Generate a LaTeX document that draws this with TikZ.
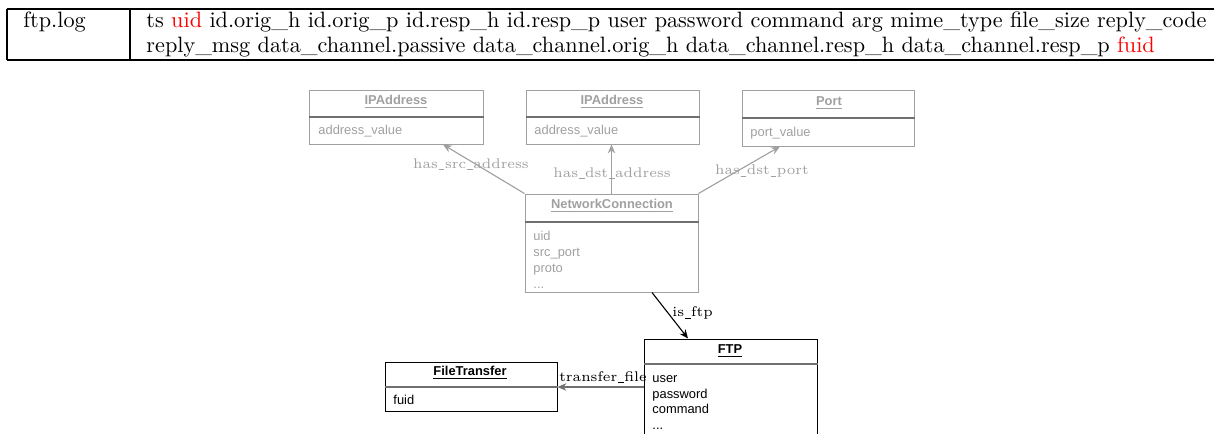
\documentclass[tikz,border=0pt]{standalone}
\usepackage{fontspec}
\newfontfamily\boxfont{Liberation Sans}
\usetikzlibrary{fit,arrows.meta}
\definecolor{lg}{HTML}{A0A0A0}
\definecolor{dg}{HTML}{707070}
\newcommand\nus{\kern0.04em\rule[-0.12em]{0.42em}{0.3pt}\kern0.04em}
\begin{document}
\begin{tikzpicture}[x=0.45pt,y=-0.45pt,
  umlbox/.style={draw, inner sep=0pt, line width=0.45pt},
  gbox/.style={umlbox, draw=lg},
  bbox/.style={umlbox, draw=black},
  ttl/.style={font=\boxfont\fontsize{5.8}{7}\selectfont\bfseries, inner sep=0pt},
  attr/.style={font=\boxfont\fontsize{5.8}{7.1}\selectfont, anchor=north west, inner sep=0pt, align=left},
  lbl/.style={font=\fontsize{6.3}{7.5}\selectfont, inner sep=0pt},
  garrow/.style={draw=lg, line width=0.5pt, -{Stealth[length=4pt,width=3.4pt]}},
  barrow/.style={draw=black, line width=0.5pt, -{Stealth[length=4pt,width=3.4pt]}},
  tabtext/.style={font=\fontsize{10}{12}\selectfont, anchor=base west, inner sep=0pt},
  rule/.style={line width=0.5pt}
]
\useasboundingbox (0,0) rectangle (1214,434);
% table
\draw[rule] (7,9) -- (1220,9);
\draw[rule, line width=0.7pt] (7,60) -- (1220,60);
\draw[rule] (7,9) -- (7,60);
\draw[rule] (130,9) -- (130,60);
\node[tabtext] (tname) at (23,27) {ftp.log};
\node[tabtext] (trow1) at (146,27) {ts \textcolor{red}{uid} id.orig\_h id.orig\_p id.resp\_h id.resp\_p user password command arg mime\_type file\_size reply\_code};
\node[tabtext] (trow2) at (146,52) {reply\_msg data\_channel.passive data\_channel.orig\_h data\_channel.resp\_h data\_channel.resp\_p \textcolor{red}{fuid}};

% IPAddress 1
\node[gbox, fit={(309,90) (483,144)}] (ip1) {};
\draw[dg, line width=0.9pt] (ip1.west |- 0,117) -- (ip1.east |- 0,117);
\node[ttl, text=lg] (ip1t) at (396,102) {\underline{IPAddress}};
\node[attr, text=lg] (ip1a) at (318,125) {address\_value};

% IPAddress 2
\node[gbox, fit={(526,90) (699,144)}] (ip2) {};
\draw[dg, line width=0.9pt] (ip2.west |- 0,117) -- (ip2.east |- 0,117);
\node[ttl, text=lg] (ip2t) at (612,102) {\underline{IPAddress}};
\node[attr, text=lg] (ip2a) at (534,125) {address\_value};

% Port
\node[gbox, fit={(742,90) (914,146)}] (port) {};
\draw[dg, line width=0.9pt] (port.west |- 0,118) -- (port.east |- 0,118);
\node[ttl, text=lg] (portt) at (829,103) {\underline{Port}};
\node[attr, text=lg] (porta) at (750,127) {port\_value};

% NetworkConnection
\node[gbox, fit={(525,194) (698,292)}] (nc) {};
\draw[dg, line width=0.9pt] (nc.west |- 0,222) -- (nc.east |- 0,222);
\node[ttl, text=lg] (nct) at (612,206) {\underline{NetworkConnection}};
\node[attr, text=lg] (nca) at (533,231) {uid\\src\_port\\proto\\...};

% FTP
\node[bbox, fit={(644,339) (817,450)}] (ftp) {};
\draw[dg, line width=0.9pt] (ftp.west |- 0,364) -- (ftp.east |- 0,364);
\node[ttl] (ftpt) at (730,351) {\underline{FTP}};
\node[attr] (ftpa) at (652,375) {user\\password\\command\\...};

% FileTransfer
\node[bbox, fit={(385,362) (557,411)}] (ft) {};
\draw[dg, line width=0.9pt] (ft.west |- 0,387) -- (ft.east |- 0,387);
\node[ttl] (ftt) at (470,373) {\underline{FileTransfer}};
\node[attr] (fta) at (393,395) {fuid};

% connectors
\draw[garrow] (nc.north west) -- (443,0 |- ip1.south);
\draw[garrow] (nc.north) -- (nc.north |- ip2.south);
\draw[garrow] (nc.north east) -- (780,0 |- port.south);
\draw[barrow] (652,0 |- nc.south) -- (688,0 |- ftp.north);
\draw[barrow, draw=dg] (ftp.west |- 0,387) -- (ft.east |- 0,387);

% labels
\node[lbl, text=lg] (l1) at (471,164) {has\nus src\nus address};
\node[lbl, text=lg] (l2) at (612,173) {has\nus dst\nus address};
\node[lbl, text=lg] (l3) at (762,171) {has\nus dst\nus port};
\node[lbl, anchor=west] (l4) at (672,313) {is\nus ftp};
\node[lbl] (l5) at (603,377) {transfer\nus file};
\end{tikzpicture}
\end{document}
